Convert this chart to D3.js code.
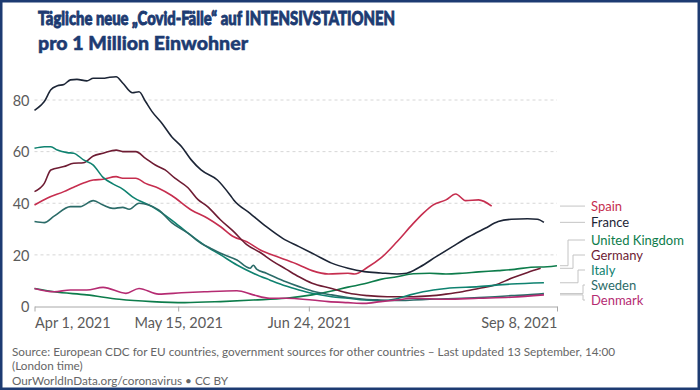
<!DOCTYPE html>
<html>
<head>
<meta charset="utf-8">
<script src="https://cdn.jsdelivr.net/npm/d3@7"></script>
<style>
  html, body { margin: 0; padding: 0; background: #fff; }
  svg { display: block; }
  text { font-family: Lato, "Open Sans", sans-serif; }
</style>
</head>
<body>
<svg id="chart" width="700" height="390"></svg>
<script>
// ---------- DATA ----------
const titleLines = ["Tägliche neue „Covid-Fälle“ auf INTENSIVSTATIONEN", "pro 1 Million Einwohner"];
const footerLines = [
  "Source: European CDC for EU countries, government sources for other countries – Last updated 13 September, 14:00",
  "(London time)",
  "OurWorldInData.org/coronavirus • CC BY"
];
const xTickDates = ["2021-04-01", "2021-05-15", "2021-06-24", "2021-09-08"];
const xTickLabels = ["Apr 1, 2021", "May 15, 2021", "Jun 24, 2021", "Sep 8, 2021"];
const yTicks = [0, 20, 40, 60, 80];
const countries = ["Spain", "France", "United Kingdom", "Germany", "Italy", "Sweden", "Denmark"];
const colors = ["#c62e4f", "#1c2536", "#0d7c4b", "#6e1c33", "#0f8270", "#2b6b68", "#b52b72"];

const spain = [["2021-04-01",39.3],["2021-04-05",42],["2021-04-10",44.5],["2021-04-13",46.2],["2021-04-16",47.8],["2021-04-19",49],["2021-04-22",49.3],["2021-04-26",50.3],["2021-04-28",49.7],["2021-05-02",49.7],["2021-05-05",47.7],["2021-05-09",45.8],["2021-05-13",43],["2021-05-19",37.4],["2021-05-24",34.2],["2021-05-28",30.9],["2021-06-01",27],["2021-06-05",25.1],["2021-06-09",22],["2021-06-15",19],["2021-06-21",16.1],["2021-06-25",13.9],["2021-06-30",12.6],["2021-07-06",12.9],["2021-07-08",12.6],["2021-07-12",15.2],["2021-07-16",18.7],["2021-07-21",25.1],["2021-07-26",32.2],["2021-07-29",36.1],["2021-08-01",39.3],["2021-08-05",41.3],["2021-08-08",43.6],["2021-08-11",41],["2021-08-15",41.3],["2021-08-19",38.9]];
const france = [["2021-04-01",76],["2021-04-03",78],["2021-04-04",79.4],["2021-04-06",84],["2021-04-08",85.5],["2021-04-10",86],["2021-04-12",87.8],["2021-04-14",88],["2021-04-17",87.4],["2021-04-19",88.4],["2021-04-22",88.4],["2021-04-24",88.8],["2021-04-26",89],["2021-04-28",86.6],["2021-05-01",82.8],["2021-05-03",83.2],["2021-05-05",79.4],["2021-05-07",75.5],["2021-05-10",71],["2021-05-13",65.8],["2021-05-16",62],["2021-05-19",56.8],["2021-05-22",52.9],["2021-05-27",49],["2021-05-31",43],["2021-06-01",41.3],["2021-06-06",36.1],["2021-06-11",30.9],["2021-06-16",26.4],["2021-06-21",23.2],["2021-06-26",20],["2021-07-01",16.8],["2021-07-06",14.8],["2021-07-11",13.5],["2021-07-16",13],["2021-07-21",12.6],["2021-07-24",12.9],["2021-07-28",15.3],["2021-08-02",19.3],["2021-08-07",23.2],["2021-08-12",27],["2021-08-17",30.3],["2021-08-21",32.9],["2021-08-25",33.8],["2021-08-30",34],["2021-09-02",33.8],["2021-09-04",32.6]];
const unitedKingdom = [["2021-04-01",7],["2021-04-07",5.7],["2021-04-17",4.5],["2021-04-27",2.8],["2021-05-07",1.9],["2021-05-17",1.5],["2021-05-28",1.9],["2021-06-07",2.5],["2021-06-17",3.2],["2021-06-25",4.5],["2021-07-01",6],["2021-07-06",7.5],["2021-07-11",8.8],["2021-07-16",10.5],["2021-07-21",11.5],["2021-07-26",12.7],["2021-07-31",12.9],["2021-08-05",12.6],["2021-08-10",12.9],["2021-08-15",13.4],["2021-08-21",13.9],["2021-08-26",14.4],["2021-08-31",15.2],["2021-09-05",15.4],["2021-09-08",15.8]];
const germany = [["2021-04-01",44.5],["2021-04-04",47.7],["2021-04-06",52.9],["2021-04-10",54.2],["2021-04-13",55.5],["2021-04-16",55.7],["2021-04-19",58.3],["2021-04-22",59.4],["2021-04-26",60.6],["2021-04-28",60],["2021-05-02",60],["2021-05-05",57.4],["2021-05-08",54.8],["2021-05-11",52.9],["2021-05-14",49.7],["2021-05-18",46],["2021-05-21",41.5],["2021-05-24",38.7],["2021-05-28",33.5],["2021-06-01",29],["2021-06-05",24],["2021-06-09",21],["2021-06-13",17.5],["2021-06-17",14.5],["2021-06-21",11.5],["2021-06-25",9],["2021-07-01",7],["2021-07-06",5.2],["2021-07-12",4.2],["2021-07-18",3.8],["2021-07-26",3.8],["2021-07-31",4.1],["2021-08-05",4.8],["2021-08-10",5.7],["2021-08-15",7],["2021-08-20",8.3],["2021-08-25",10.9],["2021-08-30",13.2],["2021-09-03",14.8]];
const italy = [["2021-04-01",61.3],["2021-04-04",61.9],["2021-04-06",61.9],["2021-04-08",60.6],["2021-04-11",59.6],["2021-04-13",59.4],["2021-04-16",56.8],["2021-04-19",54.8],["2021-04-22",50],["2021-04-25",47.5],["2021-04-28",45.5],["2021-05-01",42.5],["2021-05-07",38.7],["2021-05-13",33.5],["2021-05-18",28.4],["2021-05-23",23.8],["2021-05-28",20],["2021-06-02",16.1],["2021-06-07",12.9],["2021-06-12",10.3],["2021-06-17",7.9],["2021-06-21",6.4],["2021-06-25",5.1],["2021-07-01",3.8],["2021-07-06",3.2],["2021-07-11",2.5],["2021-07-16",2.2],["2021-07-21",3],["2021-07-25",4.5],["2021-07-29",5.7],["2021-08-05",7],["2021-08-15",7.7],["2021-08-25",8.7],["2021-09-04",9.2]];
const sweden = [["2021-04-01",32.9],["2021-04-04",32.5],["2021-04-07",35],["2021-04-12",38.7],["2021-04-15",38.7],["2021-04-19",41],["2021-04-22",39.3],["2021-04-25",38],["2021-04-28",38.4],["2021-04-30",37.7],["2021-05-03",40],["2021-05-06",39.3],["2021-05-09",37.4],["2021-05-13",32.5],["2021-05-18",28.4],["2021-05-22",24.5],["2021-05-25",22.5],["2021-05-28",20.6],["2021-06-02",18],["2021-06-06",14.8],["2021-06-07",16],["2021-06-08",14.5],["2021-06-11",12.9],["2021-06-17",9.6],["2021-06-21",7.7],["2021-06-25",6],["2021-07-01",4.5],["2021-07-06",3.5],["2021-07-11",2.8],["2021-07-16",2.5],["2021-07-21",2.3],["2021-07-26",2.5],["2021-07-31",2.8],["2021-08-05",3],["2021-08-10",3.2],["2021-08-15",3.5],["2021-08-20",3.8],["2021-08-25",4.2],["2021-08-30",4.5],["2021-09-04",5]];
const denmark = [["2021-04-01",7],["2021-04-07",5.7],["2021-04-12",6.4],["2021-04-17",6.4],["2021-04-22",7.4],["2021-04-29",5.1],["2021-05-03",7],["2021-05-09",4.8],["2021-05-16",5.3],["2021-05-23",5.7],["2021-06-02",6.1],["2021-06-07",4.5],["2021-06-12",3.2],["2021-06-17",3.2],["2021-06-25",2.5],["2021-06-30",1.9],["2021-07-06",1.5],["2021-07-11",1.2],["2021-07-16",1.9],["2021-07-21",2.5],["2021-07-26",3.2],["2021-08-05",2.8],["2021-08-15",3.2],["2021-08-25",3.6],["2021-09-04",4.5]];
const seriesValues = [spain, france, unitedKingdom, germany, italy, sweden, denmark];

// ---------- CHART ----------
const parse = d3.timeParse("%Y-%m-%d");
const svg = d3.select("#chart");
const W = 700, H = 390;
const plot = { left: 34.5, right: 557, top: 100, bottom: 306.5 };

const x = d3.scaleTime()
  .domain([parse(xTickDates[0]), parse(xTickDates[xTickDates.length - 1])])
  .range([plot.left, plot.right]);
const y = d3.scaleLinear().domain([0, 80]).range([plot.bottom, plot.top]);

// title
const titleColor = "#1d3b72";
const titleWidths = [357, 210];
titleLines.forEach((t, i) => {
  svg.append("text")
    .attr("x", 38).attr("y", 25 + i * 25)
    .attr("font-family", "Roboto, 'Open Sans', sans-serif")
    .attr("font-weight", 900)
    .attr("font-size", 19)
    .attr("fill", titleColor)
    .attr("stroke", titleColor)
    .attr("stroke-width", i === 0 ? 0.9 : 0.5)
    .attr("textLength", titleWidths[i])
    .attr("lengthAdjust", "spacingAndGlyphs")
    .text(t);
});

// grid lines
const grid = svg.append("g");
grid.selectAll("line").data(yTicks.filter(v => v > 0)).join("line")
  .attr("x1", plot.left).attr("x2", plot.right)
  .attr("y1", d => y(d)).attr("y2", d => y(d))
  .attr("stroke", "#d6d6d6").attr("stroke-width", 1)
  .attr("stroke-dasharray", "3,3");

// y axis labels
const yAxis = d3.axisLeft(y).tickValues(yTicks).tickSize(0).tickPadding(0);
const yg = svg.append("g").attr("transform", `translate(${plot.left - 5},0)`).call(yAxis);
yg.select(".domain").remove();
yg.selectAll("text").attr("font-family", "Lato, sans-serif").attr("font-size", 14.5).attr("fill", "#5b5b5b").attr("dy", "0.36em");

// x axis
const xAxis = d3.axisBottom(x)
  .tickValues(xTickDates.map(parse))
  .tickFormat((d, i) => xTickLabels[i])
  .tickSize(5).tickSizeOuter(0).tickPadding(6);
const xg = svg.append("g").attr("transform", `translate(0,${plot.bottom})`).call(xAxis);
xg.select(".domain").attr("stroke", "#a8a8a8");
xg.selectAll(".tick line").attr("stroke", "#a8a8a8");
xg.selectAll("text")
  .attr("font-family", "Lato, sans-serif").attr("font-size", 14.5).attr("fill", "#5b5b5b")
  .attr("text-anchor", (d, i) => i === 0 ? "start" : (i === xTickDates.length - 1 ? "end" : "middle"));

// lines
const line = d3.line().x(d => x(parse(d[0]))).y(d => y(d[1])).curve(d3.curveMonotoneX);
const lines = svg.append("g");
seriesValues.forEach((s, i) => {
  lines.append("path")
    .attr("d", line(s))
    .attr("fill", "none")
    .attr("stroke", colors[i])
    .attr("stroke-width", 1.6)
    .attr("stroke-linejoin", "round");
});

// legend labels with collision avoidance
const labelGap = 15, labelMax = 300;
const items = countries.map((c, i) => {
  const last = seriesValues[i][seriesValues[i].length - 1];
  return { name: c, color: colors[i], end: y(last[1]), val: last[1] };
}).sort((a, b) => a.end - b.end);
items.forEach((it, i) => { it.ly = i === 0 ? it.end : Math.max(it.end, items[i - 1].ly + labelGap); });
for (let i = items.length - 1; i >= 0; i--) {
  if (i === items.length - 1) items[i].ly = Math.min(items[i].ly, labelMax);
  else items[i].ly = Math.min(items[i].ly, items[i + 1].ly - labelGap);
}
const cx0 = plot.right + 3, cx1 = plot.right + 28, labelX = plot.right + 34;
let k = 0;
const leg = svg.append("g");
items.forEach(it => {
  let path;
  if (Math.abs(it.ly - it.end) < 1.5) {
    path = `M${cx0},${it.ly}H${cx1}`;
  } else {
    const bx = Math.min(cx0 + 8 + 5 * k, cx1 - 2);
    k++;
    path = `M${cx0},${it.end}H${bx}V${it.ly}H${cx1}`;
  }
  leg.append("path").attr("d", path).attr("fill", "none").attr("stroke", "#c4c4c4").attr("stroke-width", 1);
  leg.append("text").attr("x", labelX).attr("y", it.ly).attr("dy", "0.35em")
    .attr("font-size", 13).attr("fill", it.color).text(it.name);
});

// footer
const footer = svg.append("g").attr("transform", "translate(12,0) scale(0.954,1)");
footerLines.forEach((t, i) => {
  footer.append("text").attr("x", 0).attr("y", 356 + i * 14.5)
    .attr("font-size", 12.3).attr("fill", "#666").text(t);
});

// frame
svg.append("rect").attr("x", 1.25).attr("y", 1.25).attr("width", W - 2.5).attr("height", H - 2.5)
  .attr("fill", "none").attr("stroke", "#1d3b72").attr("stroke-width", 2.5);
</script>
</body>
</html>
